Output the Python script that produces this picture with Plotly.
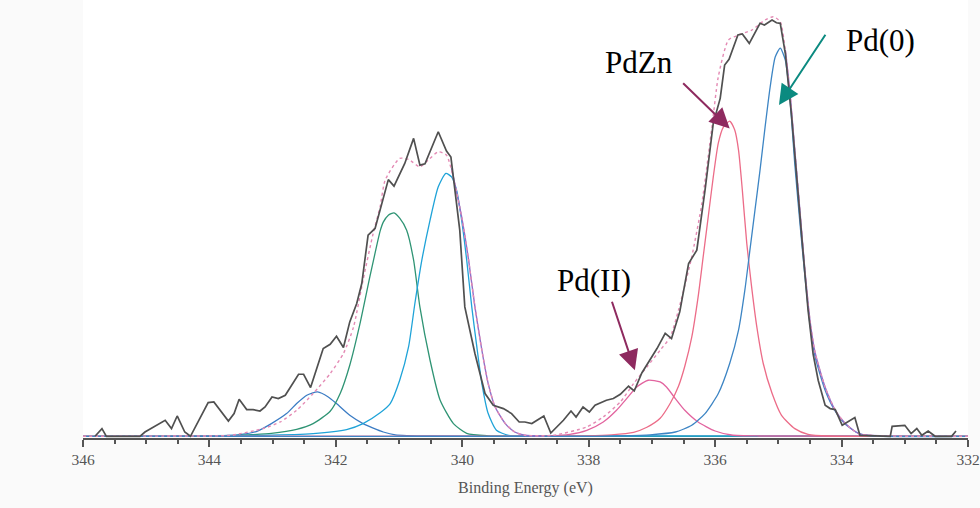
import plotly.graph_objects as go

# ---------------- data (binding energy in eV, intensity in arbitrary units) ----------------
data_be = [345.81, 345.70, 345.63, 345.10, 345.02, 344.70, 344.60, 344.51, 344.39, 344.30,
           344.02, 343.93, 343.70, 343.61, 343.53, 343.41, 343.31, 343.20, 343.12, 343.01,
           342.91, 342.80, 342.59, 342.51, 342.40, 342.31, 342.20, 342.09, 341.99, 341.88,
           341.78, 341.67, 341.59, 341.49, 341.38, 341.17, 341.08, 340.91, 340.77, 340.67,
           340.59, 340.38, 340.25, 340.18, 340.04, 339.96, 339.80, 339.64, 339.51, 339.35,
           339.22, 339.10, 339.01, 338.90, 338.71, 338.60, 338.40, 338.28, 338.20, 338.09,
           337.99, 337.90, 337.72, 337.61, 337.50, 337.37, 337.28, 337.16, 337.03, 336.92,
           336.79, 336.69, 336.56, 336.42, 336.29, 336.16, 336.03, 335.92, 335.85, 335.78,
           335.64, 335.57, 335.46, 335.29, 335.22, 335.10, 335.03, 334.97, 334.89, 334.79,
           334.63, 334.53, 334.45, 334.37, 334.26, 334.18, 334.10, 333.99, 333.79, 333.71,
           333.23, 333.20, 333.00, 332.90, 332.81, 332.73, 332.63, 332.52, 332.26, 332.19]
data_int = [0, 7.7, 0, 0, 4.3, 16, 7.7, 20.3, 4.3, 0,
            33.7, 34.3, 15.3, 22.7, 37, 26.7, 26.7, 25.3, 29.3, 39.3,
            37.7, 41, 62, 62, 48.7, 66, 87.7, 92, 100, 88.7,
            114.3, 132.7, 152.7, 201, 207.7, 256.5, 250, 272.7, 297.7, 271,
            272.3, 304.3, 285, 279, 206, 129.3, 82.7, 42.7, 31, 27.7,
            22.7, 14.3, 14.3, 12.7, 20.3, 3.3, 16, 25.3, 19.3, 29.3,
            24.3, 31, 36, 37.7, 42, 50, 45.3, 63.3, 76, 87.7,
            103, 97.7, 124.3, 172.7, 186, 246, 312.7, 337.7, 371, 376.7,
            401, 402, 392.7, 412.7, 411, 416, 413.3, 412.7, 382.7, 319.3,
            199.3, 126, 82, 56, 31, 27.7, 26.7, 11, 18.7, 1,
            0, 10, 11, 2.7, 7.7, 1, 5.3, 0, 0, 5.3]

# fitted components
small_be = [346.0, 344.0, 343.52, 343.25, 343.02, 342.78, 342.62, 342.46, 342.29, 342.12,
            341.99, 341.78, 341.57, 341.35, 341.25, 341.06, 340.5, 332.0]
small_int = [0, 0.3, 1.7, 5, 12.7, 22.7, 32.7, 41, 44.3, 39.3,
             32.7, 21, 12.7, 6.7, 4.3, 1.5, 0.3, 0]

green_be = [346.0, 343.67, 343.41, 343.02, 342.62, 342.36, 342.09, 341.93, 341.78, 341.62,
            341.46, 341.38, 341.30, 341.25, 341.17, 341.08, 340.99, 340.88, 340.77, 340.67,
            340.51, 340.35, 340.14, 339.93, 339.60, 339.0, 332.0]
green_int = [0, 0.3, 1.3, 3, 7, 12.7, 25, 43, 71, 112,
             160, 183, 205, 214, 221, 223.3, 218, 206, 176, 129,
             76, 36, 12.7, 3, 0.5, 0, 0]

cyan_be = [346.0, 343.15, 342.36, 341.83, 341.57, 341.30, 341.14, 340.99, 340.85, 340.75,
           340.64, 340.51, 340.38, 340.26, 340.17, 340.09, 340.01, 339.93, 339.85, 339.77,
           339.69, 339.59, 339.46, 339.27, 339.0, 332.0]
cyan_int = [0, 1, 2.7, 6.7, 12.7, 23.5, 32.7, 56, 89.3, 132.7,
            176, 216, 249.3, 262.7, 259.3, 246, 216, 176, 129.3, 89.3,
            52.7, 22.7, 6, 1, 0.3, 0]

pd2_be = [346.0, 339.2, 338.6, 338.30, 338.03, 337.77, 337.56, 337.40, 337.24, 337.06,
          336.87, 336.77, 336.63, 336.48, 336.27, 336.00, 335.74, 335.3, 332.0]
pd2_int = [0, 0, 0.5, 2, 6, 14.3, 26, 37.7, 49.3, 56,
           54.3, 49.3, 37.7, 26, 14.3, 5.3, 1.3, 0.3, 0]

pdzn_be = [346.0, 338.6, 338.03, 337.64, 337.29, 337.08, 336.87, 336.71, 336.58, 336.48,
           336.37, 336.27, 336.19, 336.11, 336.03, 335.95, 335.87, 335.77, 335.69, 335.63,
           335.57, 335.50, 335.43, 335.34, 335.24, 335.10, 334.95, 334.74, 334.53, 334.2, 332.0]
pdzn_int = [0, 0, 0.5, 1.5, 4, 9, 18, 33, 50, 70,
            99, 139, 179, 219, 259, 293, 309, 315, 306, 286,
            246, 193, 153, 109, 73, 43, 21, 7.7, 2, 0.3, 0]

pd0_be = [346.0, 338.0, 337.50, 337.03, 336.63, 336.37, 336.16, 335.95, 335.77, 335.63,
          335.53, 335.45, 335.37, 335.29, 335.21, 335.13, 335.05, 334.97, 334.89, 334.82,
          334.74, 334.66, 334.58, 334.50, 334.42, 334.26, 334.10, 333.94, 333.73, 333.55, 332.0]
pd0_int = [0, 0, 0.5, 1.5, 4.3, 11, 22.7, 42.7, 72.7, 106,
           146, 186, 226, 266, 309, 349, 379, 388, 376, 340,
           272, 214, 160, 112, 80, 46, 25, 12, 3, 0.5, 0]

env_be = [346.0, 344.5, 343.67, 343.15, 342.88, 342.62, 342.36, 342.09, 341.88, 341.72,
          341.57, 341.41, 341.30, 341.22, 340.99, 340.85, 340.67, 340.54, 340.38, 340.25,
          340.12, 340.01, 339.90, 339.80, 339.69, 339.59, 339.48, 339.32, 339.17, 339.01,
          338.56, 338.03, 337.77, 337.50, 337.29, 337.08, 336.87, 336.71, 336.58, 336.37,
          336.21, 336.05, 335.95, 335.79, 335.63, 335.42, 335.21, 335.08, 334.97, 334.89,
          334.82, 334.74, 334.66, 334.58, 334.50, 334.42, 334.26, 334.10, 333.94, 333.73,
          333.4, 332.0]
env_int = [0, 0.3, 1, 7.7, 14.3, 26, 42.7, 62.7, 82.7, 109.3,
           156, 202.7, 229.3, 256, 277.7, 276.7, 269.3, 276, 284.3, 281,
           252.7, 219.3, 176, 129.3, 86, 52.7, 29.3, 12.7, 4.3, 1,
           1, 9.3, 19.3, 34.3, 52.7, 69.3, 86, 99.3, 126, 179.3,
           232.7, 309.3, 359.3, 396, 401, 406, 416, 419.3, 414.3, 386,
           346, 286, 226, 166, 116, 84, 49, 26, 12.7, 2.7,
           0.5, 0]

# solid envelope segments on the low-BE flanks
flank_be = [340.17, 340.12, 340.01, 339.90, 339.80, 339.69, 339.59, 339.48, 339.32, 339.17, 339.01, 338.7,
            None,
            334.89, 334.82, 334.74, 334.66, 334.58, 334.50, 334.42, 334.26, 334.10, 333.94, 333.73, 333.4]
flank_int = [268, 252.7, 219.3, 176, 129.3, 86, 52.7, 29.3, 12.7, 4.3, 1, 0.2,
             None,
             386, 346, 286, 226, 166, 116, 84, 49, 26, 12.7, 2.7, 0.5]

x_ticks = [346, 344, 342, 340, 338, 336, 334, 332]
x_title = "Binding Energy (eV)"
labels = ["Pd(0)", "PdZn", "Pd(II)"]

# ---------------- figure ----------------
fig = go.Figure()

def comp(be, y, color, width=1.3):
    fig.add_trace(go.Scatter(x=be, y=y, mode="lines",
                             line=dict(color=color, width=width, shape="spline", smoothing=0.6),
                             hoverinfo="skip"))

comp(small_be, small_int, "#3b7cc4")
comp(green_be, green_int, "#2f9474")
comp(cyan_be, cyan_int, "#1fa3d8")
comp(pd2_be, pd2_int, "#e2649f")
comp(pdzn_be, pdzn_int, "#ec6c88")
comp(pd0_be, pd0_int, "#3d85c4")

fig.add_trace(go.Scatter(x=flank_be, y=flank_int, mode="lines",
                         line=dict(color="#9070c8", width=1.4, shape="spline", smoothing=0.6),
                         connectgaps=False, hoverinfo="skip"))
fig.add_trace(go.Scatter(x=env_be, y=env_int, mode="lines",
                         line=dict(color="#e48ab4", width=1.4, dash="dot", shape="spline", smoothing=0.6),
                         hoverinfo="skip"))
fig.add_trace(go.Scatter(x=data_be, y=data_int, mode="lines",
                         line=dict(color="#505050", width=1.7), hoverinfo="skip"))

serif = "Liberation Serif"
maroon = "#8e2a5f"
teal = "#0b8a80"

# labels
fig.add_annotation(x=333.39, y=396, xref="x", yref="y", text=labels[0], showarrow=False,
                   font=dict(family=serif, size=31, color="black"))
fig.add_annotation(x=337.20, y=374, xref="x", yref="y", text=labels[1], showarrow=False,
                   font=dict(family=serif, size=31, color="black"))
fig.add_annotation(x=337.92, y=156, xref="x", yref="y", text=labels[2], showarrow=False,
                   font=dict(family=serif, size=31, color="black"))

# arrows
def arrow(tip_x, tip_y, tail_x, tail_y, color):
    fig.add_annotation(x=tip_x, y=tip_y, ax=tail_x, ay=tail_y, xref="x", yref="y",
                       axref="x", ayref="y", text="", showarrow=True,
                       arrowhead=2, arrowsize=2, arrowwidth=2, arrowcolor=color)

arrow(334.99, 331, 334.24, 402.7, teal)
arrow(335.77, 307.7, 336.53, 354.3, maroon)
arrow(337.27, 66, 337.64, 136, maroon)

fig.update_layout(
    width=980, height=508,
    margin=dict(l=83, r=12, t=0, b=70),
    paper_bgcolor="#fafafa", plot_bgcolor="white",
    showlegend=False,
    xaxis=dict(range=[346, 332], tickvals=x_ticks, ticktext=[str(v) for v in x_ticks],
               ticks="outside", ticklen=7, tickwidth=1.5, tickcolor="#555",
               showline=True, linecolor="#555", linewidth=1.5,
               showgrid=False, zeroline=False,
               minor=dict(ticks="outside", ticklen=4, dtick=0.5, tick0=332,
                          tickcolor="#555", tickwidth=1.5, showgrid=False),
               tickfont=dict(family=serif, size=15.5, color="#555"),
               title=dict(text=x_title, font=dict(family=serif, size=16, color="#555"),
                          standoff=14)),
    yaxis=dict(range=[-1.7, 436], visible=False, showgrid=False, zeroline=False),
)

fig.write_html("out.html")
